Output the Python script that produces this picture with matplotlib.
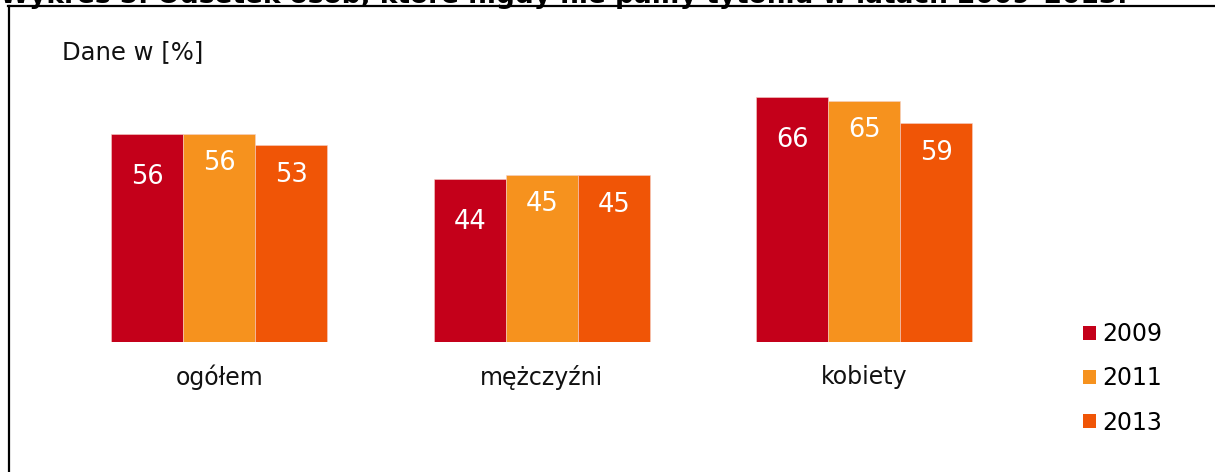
import matplotlib.pyplot as plt
from matplotlib.patches import Patch
from matplotlib.lines import Line2D

categories = ['ogółem', 'mężczyźni', 'kobiety']
years = ['2009', '2011', '2013']
v2009 = [56, 44, 66]
v2011 = [56, 45, 65]
v2013 = [53, 45, 59]
colors = ['#C4001A', '#F6921E', '#F05506']

W, H = 1215, 472
fig = plt.figure(figsize=(W / 100, H / 100), dpi=100)
ax = fig.add_axes([58 / W, 130 / H, 967.5 / W, 260 / H])

x = list(range(len(categories)))
bw = 72 / 322.5
series = [v2009, v2011, v2013]
# label offset below the bar top, pixels
offs = [43, 29, 30]
for i, vals in enumerate(series):
    xs = [k + (i - 1) * bw for k in x]
    ax.bar(xs, vals, width=bw, color=colors[i], edgecolor='#f4d0c8', linewidth=0.4)
    for xx, v in zip(xs, vals):
        ax.annotate(str(v), (xx, v), xytext=(0, -offs[i]), textcoords='offset pixels',
                    ha='center', va='center', color='white', fontsize=18.5)

for k, c in zip(x, categories):
    ax.annotate(c, (k, 0), xytext=(0, -35), textcoords='offset pixels',
                ha='center', va='center', fontsize=17, color='#111111')

ax.set_xlim(-0.5, 2.5)
ax.set_ylim(0, 70)
ax.axis('off')

fig.text(62 / W, 1 - 52 / H, 'Dane w [%]', fontsize=17.5, va='center', ha='left', color='#111111')

handles = [Patch(facecolor=c, edgecolor='none') for c in colors]
fig.legend(handles, years, loc='upper left', bbox_to_anchor=(1076 / W, 1 - 315 / H),
           frameon=False, fontsize=17, handlelength=0.55, handleheight=0.55,
           handletextpad=0.25, labelspacing=0.86, borderaxespad=0, borderpad=0.3)

# frame around the chart
fig.add_artist(Line2D([8.5 / W, 8.5 / W], [0, 1 - 6 / H], color='black', lw=1.6))
fig.add_artist(Line2D([8 / W, 1], [1 - 6 / H, 1 - 6 / H], color='black', lw=1.6))

# title cut off by the top edge
fig.text(0, 1 - 3 / H, 'Wykres 5. Odsetek osób, które nigdy nie paliły tytoniu w latach 2009–2013.',
         fontsize=19, fontweight='bold', va='baseline', ha='left')

fig.savefig('out.png', dpi=100)
